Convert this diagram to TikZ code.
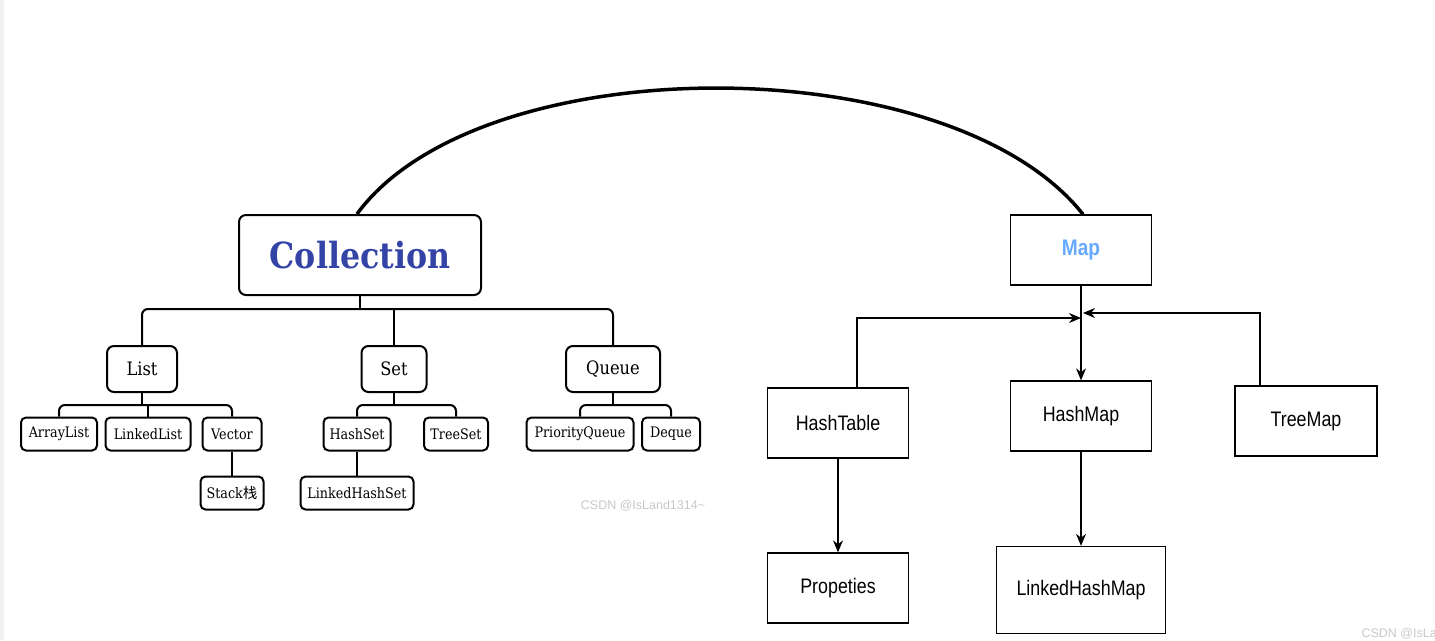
\documentclass[tikz,border=0pt]{standalone}
\usepackage{fontspec}
\setmainfont[FakeStretch=0.88]{DejaVu Serif}
\newfontfamily\sansf[FakeStretch=0.85]{Liberation Sans}
\newfontfamily\wmfont{Liberation Sans}
\newfontfamily\cjk{Noto Sans CJK SC}
\usetikzlibrary{
  arrows.meta,
  calc,
  positioning
}
\definecolor{collblue}{HTML}{3444A6}
\definecolor{mapblue}{HTML}{66AAFF}
\definecolor{wmgray}{HTML}{C8C8C8}
\tikzset{
  rbox/.style={draw, rounded corners=7pt, line width=2pt, inner sep=0pt},
  leaf/.style={rbox, rounded corners=5pt, minimum height=33pt, font=\fontsize{14.5}{16}\selectfont},
  mid/.style={rbox, minimum height=46pt, font=\fontsize{18.5}{21}\selectfont},
  sbox/.style={draw, line width=1.3pt, inner sep=0pt, minimum width=141pt, minimum height=70pt, font=\sansf\fontsize{21}{24}\selectfont},
  bus/.style={line width=2pt, rounded corners=6pt},
  arr/.style={-{Stealth[length=12pt, width=10pt]}, line width=1.3pt},
  wm/.style={text=wmgray, font=\wmfont\fontsize{12.5}{14}\selectfont},
}

\begin{document}
\begin{tikzpicture}[x=1pt, y=-1pt]
\useasboundingbox (0,0) rectangle (1435,640);
\fill[gray!12] (0,0) rectangle (4,640);

% Collection side
\node[rbox, minimum width=242pt, minimum height=80pt, text=collblue,
  font=\bfseries\fontsize{36}{42}\selectfont] (coll) at (360,255) {Collection};

\node[mid, minimum width=70pt] (list) at (142,369) {List};
\node[mid, minimum width=65pt] (set) at (394,369) {Set};
\node[mid, minimum width=94pt] (queue) at (613,369) {Queue};

\node[leaf, minimum width=76pt] (alist) at (59,434) {ArrayList};
\node[leaf, minimum width=85pt] (llist) at (148,434) {LinkedList};
\node[leaf, minimum width=59pt] (vector) at (232,434) {Vector};
\node[leaf, minimum width=63pt] (stack) at (232,493) {Stack{\cjk 栈}};

\node[leaf, minimum width=67pt] (hset) at (357,434) {HashSet};
\node[leaf, minimum width=64pt] (tset) at (456,434) {TreeSet};
\node[leaf, minimum width=113pt] (lhset) at (357,493) {LinkedHashSet};

\node[leaf, minimum width=107pt] (pq) at (580,434) {PriorityQueue};
\node[leaf, minimum width=58pt] (deque) at (671,434) {Deque};

% tree lines
\coordinate (cbus) at ($(coll.south)+(0,13)$);
\draw[bus] (coll.south) -- (cbus);
\draw[bus] (list.north) |- (cbus) -| (queue.north);
\draw[bus] (cbus -| set.north) -- (set.north);

\coordinate (lbus) at ($(list.south)+(0,12)$);
\draw[bus] (list.south) -- (lbus);
\draw[bus] (alist.north) |- (lbus) -| (vector.north);
\draw[bus] (lbus -| llist.north) -- (llist.north);
\draw[bus] (vector.south) -- (stack.north);

\coordinate (sbus) at ($(set.south)+(0,12)$);
\draw[bus] (set.south) -- (sbus);
\draw[bus] (hset.north) |- (sbus) -| (tset.north);
\draw[bus] (hset.south) -- (lhset.north);

\coordinate (qbus) at ($(queue.south)+(0,12)$);
\draw[bus] (queue.south) -- (qbus);
\draw[bus] (pq.north) |- (qbus) -| (deque.north);

% Map side
\node[sbox, text=mapblue, font=\sansf\bfseries\fontsize{22.5}{26}\selectfont] (map) at (1081,250) {Map};
\node[sbox] (htable) at (838,423) {HashTable};
\node[sbox] (hmap) at (1081,416) {HashMap};
\node[sbox, minimum width=142pt] (tmap) at (1306,421) {TreeMap};
\node[sbox] (prop) at (838,588) {Propeties};
\node[sbox, minimum width=169pt, minimum height=87pt] (lhmap) at (1081,590) {LinkedHashMap};

\coordinate (juncL) at (1081,318);
\coordinate (juncR) at (1083,313);
\draw[arr] (map.south) -- (hmap.north);
\draw[arr] ([xshift=19pt]htable.north) |- (juncL);
\draw[arr] ([xshift=-46pt]tmap.north) |- (juncR);
\draw[arr] (htable.south) -- (prop.north);
\draw[arr] (hmap.south) -- (lhmap.north);

% big arc
\draw[line width=3.5pt] ([xshift=-3pt]coll.north) .. controls (480,46) and (950,46) .. ([xshift=2pt]map.north);

% watermarks
\node[wm] (wmark) at (643,506) {CSDN @IsLand1314\textasciitilde};
\node[wm, anchor=west] (wmark2) at (1358,634) {CSDN @IsLand1314\textasciitilde};
\end{tikzpicture}
\end{document}
